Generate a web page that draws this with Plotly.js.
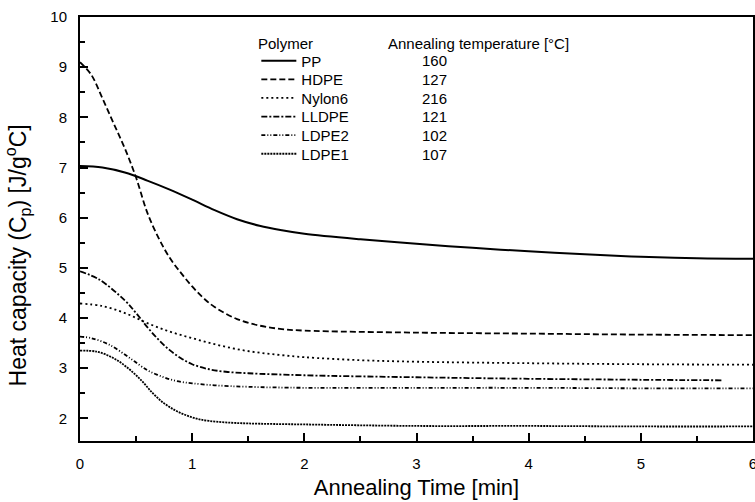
<!DOCTYPE html>
<html><head><meta charset="utf-8">
<script src="https://cdn.plot.ly/plotly-3.0.1.min.js"></script>
<style>html,body{margin:0;padding:0;background:#fff}#chart{width:755px;height:502px}</style>
</head><body><div id="chart"></div>
<script>
// Data
const polymers = ["PP", "HDPE", "Nylon6", "LLDPE", "LDPE2", "LDPE1"];
const annealTemps = ["160", "127", "216", "121", "102", "107"];

const ppX = [0, 0.2, 0.4, 0.6, 0.8, 1.0, 1.2, 1.4, 1.6, 1.8, 2.0, 2.5, 3.0, 3.5, 4.0, 4.5, 5.0, 5.5, 6.0];
const ppY = [7.03, 7.0, 6.9, 6.74, 6.56, 6.36, 6.15, 5.97, 5.84, 5.75, 5.68, 5.57, 5.48, 5.40, 5.33, 5.27, 5.22, 5.19, 5.18];

const hdpeX = [0, 0.1, 0.2, 0.3, 0.4, 0.5, 0.6, 0.7, 0.8, 0.9, 1.0, 1.1, 1.2, 1.4, 1.6, 1.8, 2.0, 3.0, 4.0, 5.0, 6.0];
const hdpeY = [9.1, 8.85, 8.38, 7.88, 7.38, 6.8, 6.1, 5.6, 5.2, 4.9, 4.63, 4.4, 4.22, 3.98, 3.85, 3.78, 3.75, 3.71, 3.69, 3.67, 3.66];

const nylonX = [0, 0.2, 0.4, 0.6, 0.8, 1.0, 1.2, 1.4, 1.6, 1.8, 2.0, 2.5, 3.0, 4.0, 5.0, 6.0];
const nylonY = [4.29, 4.24, 4.1, 3.9, 3.73, 3.6, 3.48, 3.38, 3.31, 3.26, 3.22, 3.16, 3.13, 3.10, 3.08, 3.07];

const lldpeX = [0, 0.17, 0.4, 0.5, 0.6, 0.7, 0.8, 0.9, 1.0, 1.15, 1.3, 1.5, 2.0, 3.0, 4.0, 5.0, 5.73];
const lldpeY = [4.93, 4.77, 4.35, 4.1, 3.82, 3.57, 3.36, 3.2, 3.08, 2.98, 2.93, 2.9, 2.86, 2.82, 2.79, 2.77, 2.76];

const ldpe2X = [0, 0.1, 0.26, 0.44, 0.6, 0.7, 0.8, 0.9, 1.0, 1.2, 1.5, 2.0, 3.0, 4.0, 5.0, 6.0];
const ldpe2Y = [3.63, 3.6, 3.47, 3.21, 2.96, 2.86, 2.78, 2.73, 2.7, 2.66, 2.63, 2.61, 2.61, 2.61, 2.60, 2.60];

const ldpe1X = [0, 0.15, 0.3, 0.44, 0.55, 0.65, 0.75, 0.85, 0.95, 1.05, 1.15, 1.3, 1.5, 2.0, 3.0, 4.0, 5.0, 6.0];
const ldpe1Y = [3.35, 3.33, 3.2, 2.98, 2.75, 2.5, 2.3, 2.16, 2.06, 1.99, 1.95, 1.92, 1.90, 1.88, 1.85, 1.85, 1.84, 1.84];

// axis ticks
const xRange = [0, 6], yRange = [1.55, 10];
const xMajor = [0, 1, 2, 3, 4, 5, 6];
const xMinor = [0.5, 1.5, 2.5, 3.5, 4.5, 5.5];
const yMajor = [2, 3, 4, 5, 6, 7, 8, 9, 10];
const yMinor = [2.5, 3.5, 4.5, 5.5, 6.5, 7.5, 8.5, 9.5];

const xTitle = "Annealing Time [min]";
const yTitle = "Heat capacity (C<sub>p</sub>) [J/g<sup>o</sup>C]";
const headPolymer = "Polymer";
const headTemp = "Annealing temperature [°C]";

const FONT = "Liberation Sans, Arial, sans-serif";
const styles = [
  ["solid", 2],
  ["6px,3px", 1.8],
  ["2px,3px", 1.8],
  ["6px,2px,2px,2px", 1.8],
  ["4px,2px,1px,2px,1px,2px", 1.8],
  ["2px,1px", 1.8]
];
const xs = [ppX, hdpeX, nylonX, lldpeX, ldpe2X, ldpe1X];
const ys = [ppY, hdpeY, nylonY, lldpeY, ldpe2Y, ldpe1Y];
const legendIds = ["legend", "legend2", "legend3", "legend4", "legend5", "legend6"];

const traces = polymers.map((name, i) => ({
  x: xs[i], y: ys[i], type: "scatter", mode: "lines", name: name,
  legend: legendIds[i],
  line: {color: "#000", dash: styles[i][0], width: styles[i][1], shape: "spline", smoothing: 1}
}));
// empty trace so the minor-tick overlay axes are drawn
traces.push({x: [], y: [], xaxis: "x2", yaxis: "y2", type: "scatter", mode: "lines", showlegend: false, hoverinfo: "skip"});

// legend table layout (paper coords)
const plotTop = 17, plotH = 424;
const toPaperY = py => 1 - (py - plotTop) / plotH;
const headRow = 44, firstRow = 61, rowStep = 18.6;

const annotations = [
  {text: headPolymer, x: 0.261, y: toPaperY(headRow), xanchor: "left"},
  {text: headTemp, x: 0.455, y: toPaperY(headRow), xanchor: "left"}
].concat(annealTemps.map((t, i) => ({text: t, x: 0.527, y: toPaperY(firstRow + i * rowStep), xanchor: "center"})))
 .map(a => Object.assign({xref: "paper", yref: "paper", yanchor: "middle", showarrow: false,
   font: {family: FONT, size: 15, color: "#000"}}, a))
 .concat([{text: yTitle, xref: "paper", yref: "paper", x: -0.093, y: toPaperY(255),
   xanchor: "center", yanchor: "middle", textangle: -90, showarrow: false,
   font: {family: FONT, size: 23, color: "#000"}}]);

const axisCommon = {
  showline: true, linecolor: "#000", linewidth: 2, mirror: true,
  ticks: "inside", tickcolor: "#000", tickwidth: 2, ticklen: 8,
  tickmode: "array",
  showgrid: false, zeroline: false,
  tickfont: {family: FONT, size: 15, color: "#000"},
  ticklabelstandoff: 8, ticklabeloverflow: "allow"
};
const minorCommon = {
  showline: false, showgrid: false, zeroline: false, showticklabels: false,
  ticks: "inside", tickcolor: "#000", tickwidth: 2, ticklen: 5, tickmode: "array"
};

const layout = {
  width: 755, height: 502,
  margin: {l: 80, r: 2, t: 17, b: 61},
  paper_bgcolor: "#fff", plot_bgcolor: "#fff",
  showlegend: true,
  xaxis: Object.assign({}, axisCommon, {range: xRange, tickvals: xMajor,
    title: {text: xTitle, font: {family: FONT, size: 22, color: "#000"}, standoff: 9}}),
  yaxis: Object.assign({}, axisCommon, {range: yRange, tickvals: yMajor}),
  xaxis2: Object.assign({}, minorCommon, {range: xRange, tickvals: xMinor, overlaying: "x", anchor: "y", side: "bottom"}),
  yaxis2: Object.assign({}, minorCommon, {range: yRange, tickvals: yMinor, overlaying: "y", anchor: "x", side: "left"}),
  annotations: annotations
};
legendIds.forEach((id, i) => {
  layout[id] = {x: 0.262, y: toPaperY(firstRow + i * rowStep), xanchor: "left", yanchor: "middle",
    bgcolor: "rgba(0,0,0,0)", borderwidth: 0, itemwidth: 35,
    font: {family: FONT, size: 15, color: "#000"}};
});
Plotly.newPlot("chart", traces, layout, {staticPlot: true, displayModeBar: false});
</script></body></html>
